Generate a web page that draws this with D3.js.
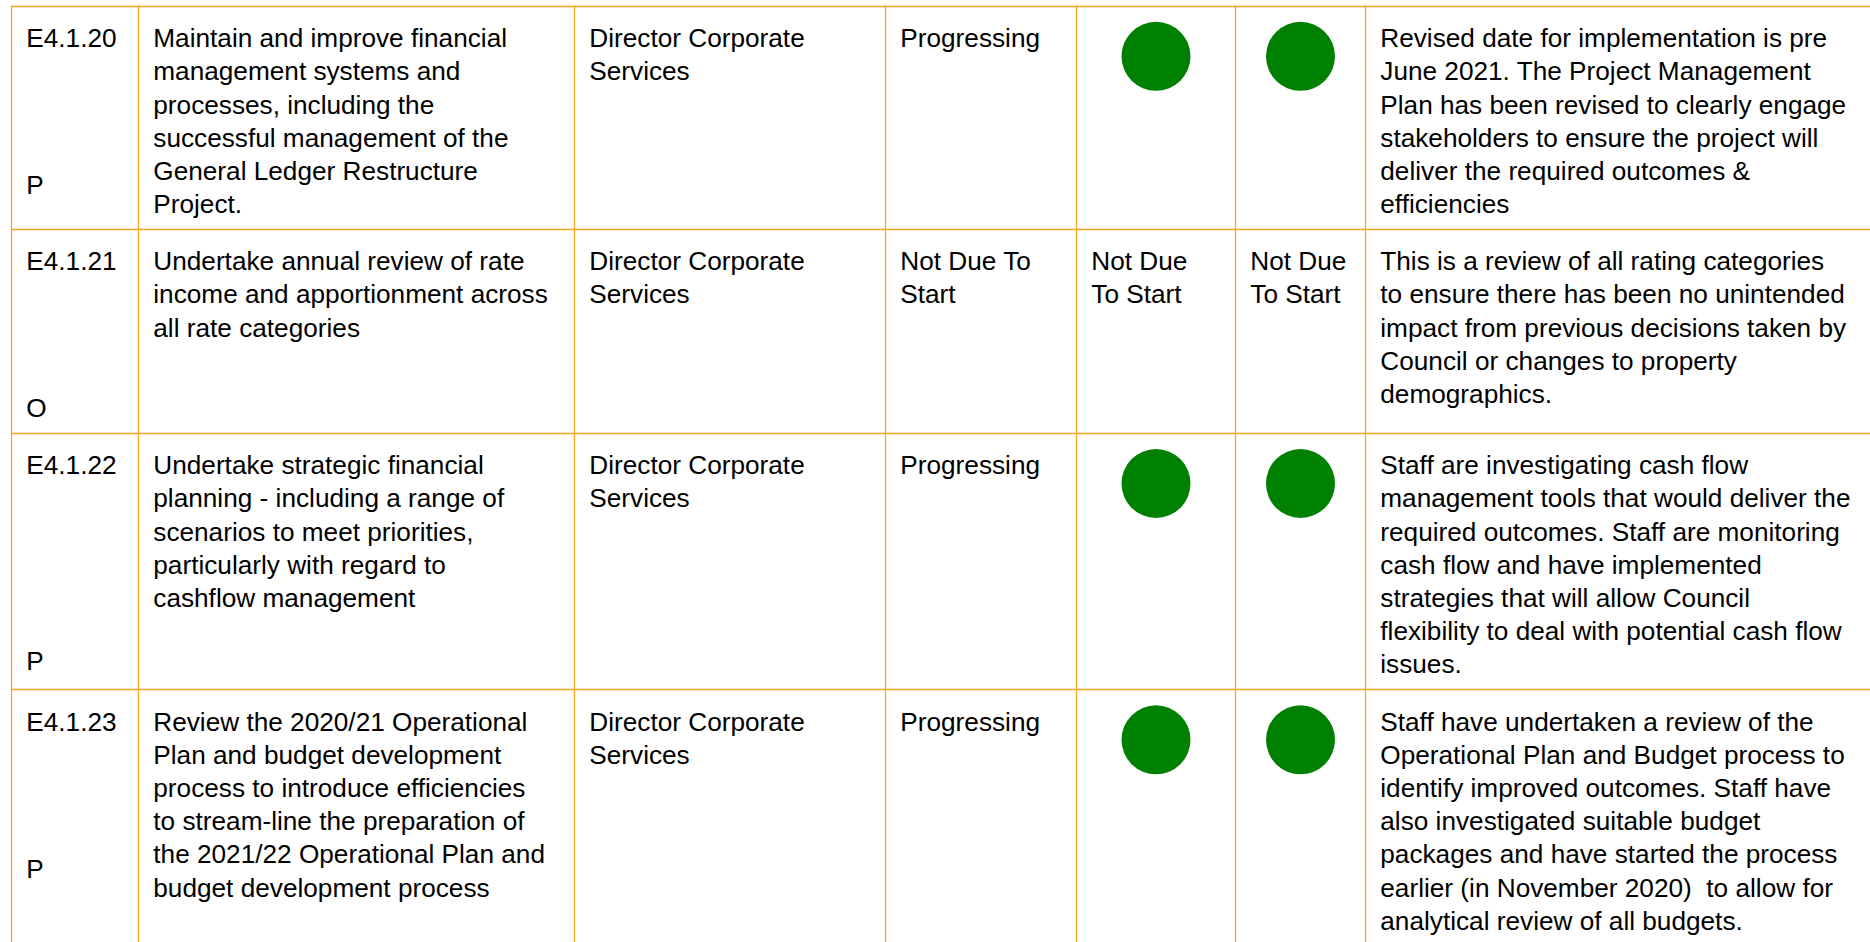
<!DOCTYPE html>
<html>
<head>
<meta charset="utf-8">
<script src="https://cdn.jsdelivr.net/npm/d3@7"></script>
<style>
  html, body { margin: 0; padding: 0; background: #ffffff; overflow: hidden; }
  svg { display: block; }
  text { font-family: "Liberation Sans", Arial, sans-serif; font-size: 26.2px; fill: #000; white-space: pre; }
</style>
</head>
<body>
<div id="chart"></div>
<script>
// ---------------- data ----------------
const ids = ["E4.1.20", "E4.1.21", "E4.1.22", "E4.1.23"];
const codes = ["P", "O", "P", "P"];
const actions = [
  ["Maintain and improve financial", "management systems and", "processes, including the", "successful management of the", "General Ledger Restructure", "Project."],
  ["Undertake annual review of rate", "income and apportionment across", "all rate categories"],
  ["Undertake strategic financial", "planning - including a range of", "scenarios to meet priorities,", "particularly with regard to", "cashflow management"],
  ["Review the 2020/21 Operational", "Plan and budget development", "process to introduce efficiencies", "to stream-line the preparation of", "the 2021/22 Operational Plan and", "budget development process"]
];
const responsible = [
  ["Director Corporate", "Services"],
  ["Director Corporate", "Services"],
  ["Director Corporate", "Services"],
  ["Director Corporate", "Services"]
];
const progress = [["Progressing"], ["Not Due To", "Start"], ["Progressing"], ["Progressing"]];
const ratingA = ["Green", "Not Due To Start", "Green", "Green"];
const ratingB = ["Green", "Not Due To Start", "Green", "Green"];
const ratingLines = { "Not Due To Start": ["Not Due", "To Start"] };
const comments = [
  ["Revised date for implementation is pre", "June 2021. The Project Management", "Plan has been revised to clearly engage", "stakeholders to ensure the project will", "deliver the required outcomes &", "efficiencies"],
  ["This is a review of all rating categories", "to ensure there has been no unintended", "impact from previous decisions taken by", "Council or changes to property", "demographics."],
  ["Staff are investigating cash flow", "management tools that would deliver the", "required outcomes. Staff are monitoring", "cash flow and have implemented", "strategies that will allow Council", "flexibility to deal with potential cash flow", "issues."],
  ["Staff have undertaken a review of the", "Operational Plan and Budget process to", "identify improved outcomes. Staff have", "also investigated suitable budget", "packages and have started the process", "earlier (in November 2020)  to allow for", "analytical review of all budgets."]
];
const ratingColors = { "Green": "#008000" };

// ---------------- layout ----------------
const W = 1870, H = 942;
const columns = ["id", "action", "resp", "progress", "rateA", "rateB", "comment"];
const colEdges = [11.5, 138.5, 574.5, 885.5, 1076.5, 1235.5, 1365.5, 1900];
const xLeft = d3.scaleOrdinal().domain(columns).range(colEdges.slice(0, -1));
const xRight = d3.scaleOrdinal().domain(columns).range(colEdges.slice(1));
const tableTop = 5.5;
const padLeft = 14.8;
const firstBase = 41.6;
const lineH = 33.2;
const bottomPad = 15.5;
const codeOffset = [188.2, 188.6, 237.8, 189];
const circleOffset = 50.8, circleR = 34.5;
const border = "#F4A523";

const rows = ids.map((id, i) => {
  const cells = {
    id: [id],
    action: actions[i],
    resp: responsible[i],
    progress: progress[i],
    rateA: ratingColors[ratingA[i]] ? [] : (ratingLines[ratingA[i]] || [ratingA[i]]),
    rateB: ratingColors[ratingB[i]] ? [] : (ratingLines[ratingB[i]] || [ratingB[i]]),
    comment: comments[i]
  };
  const maxLines = d3.max(Object.values(cells), c => c.length);
  const h = Math.max(firstBase + (maxLines - 1) * lineH, codeOffset[i]) + bottomPad;
  return { i, cells, h, code: codes[i], rA: ratingA[i], rB: ratingB[i] };
});
let acc = tableTop;
rows.forEach(r => { r.y = acc; acc += r.h; });

const y = d3.scaleLinear().domain([0, 1]).range([0, 1]);

const svg = d3.select("#chart").append("svg")
  .attr("width", W).attr("height", H);
svg.append("rect").attr("width", W).attr("height", H).attr("fill", "#fff");

// grid lines
const grid = svg.append("g");
const hLines = [tableTop].concat(rows.map(r => r.y + r.h));
grid.selectAll("line.h").data(hLines).join("line")
  .attr("class", "h")
  .attr("x1", colEdges[0]).attr("x2", W + 10)
  .attr("y1", d => Math.round(y(d)) + 0.5).attr("y2", d => Math.round(y(d)) + 0.5)
  .attr("stroke", border).attr("stroke-width", 1.3);
grid.selectAll("line.v").data(colEdges.slice(0, -1)).join("line")
  .attr("class", "v")
  .attr("x1", d => d).attr("x2", d => d)
  .attr("y1", tableTop).attr("y2", H + 10)
  .attr("stroke", border).attr("stroke-width", 1.3);

// row groups
const rowG = svg.selectAll("g.row").data(rows).join("g")
  .attr("class", "row")
  .attr("transform", d => `translate(0,${d.y})`);

columns.forEach(col => {
  rowG.append("text")
    .attr("x", xLeft(col) + padLeft)
    .selectAll("tspan").data(d => d.cells[col]).join("tspan")
    .attr("x", xLeft(col) + padLeft)
    .attr("y", (d, k) => firstBase + k * lineH)
    .text(d => d);
});

// priority code at foot of ID cell
rowG.append("text")
  .attr("x", xLeft("id") + padLeft)
  .attr("y", d => codeOffset[d.i])
  .text(d => d.code);

// rating circles
[["rateA", "rA"], ["rateB", "rB"]].forEach(([col, key]) => {
  rowG.filter(d => ratingColors[d[key]])
    .append("circle")
    .attr("cx", (xLeft(col) + xRight(col)) / 2)
    .attr("cy", circleOffset)
    .attr("r", circleR)
    .attr("fill", d => ratingColors[d[key]]);
});
</script>
</body>
</html>
